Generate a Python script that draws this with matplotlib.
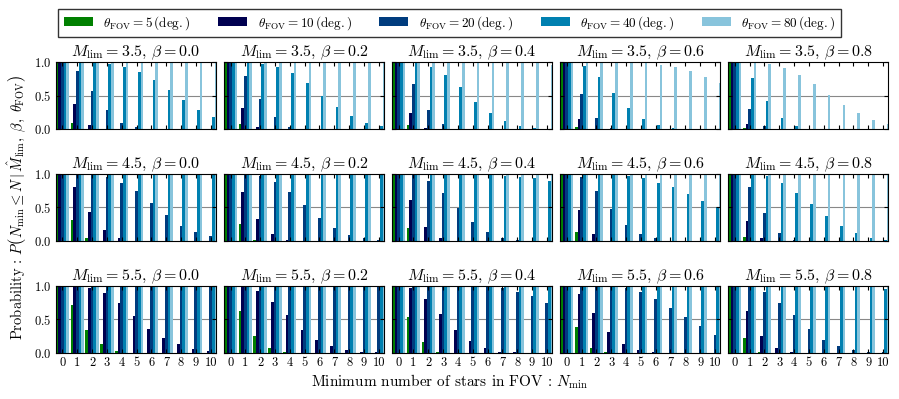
import numpy as np
import matplotlib
matplotlib.use('Agg')
import matplotlib.pyplot as plt

plt.rcParams['font.family'] = 'serif'
plt.rcParams['font.serif'] = ['cmr10', 'DejaVu Serif']
plt.rcParams['mathtext.fontset'] = 'cm'
plt.rcParams['axes.formatter.use_mathtext'] = True

# --- data ---
N_MIN = list(range(11))
THETA_FOV = [5, 10, 20, 40, 80]
M_LIM = [3.5, 4.5, 5.5]
BETA = [0.0, 0.2, 0.4, 0.6, 0.8]
COLORS = ['#008000', '#000050', '#003c7e', '#0080b0', '#88c4dc']

# each panel: rows = theta_FOV 5, 10, 20, 40, 80 ; columns = N_min 0..10
P_M35_B00 = [
    [1, 0.10, 0, 0, 0, 0, 0, 0, 0, 0, 0],
    [1, 0.37, 0.06, 0.01, 0, 0, 0, 0, 0, 0, 0],
    [1, 0.86, 0.57, 0.28, 0.10, 0.03, 0.01, 0, 0, 0, 0],
    [1, 1.0, 0.99, 0.97, 0.93, 0.85, 0.73, 0.58, 0.43, 0.28, 0.18],
    [1, 1, 1, 1, 1, 1, 1, 1, 1, 1, 1],
]
P_M35_B02 = [
    [1, 0.08, 0, 0, 0, 0, 0, 0, 0, 0, 0],
    [1, 0.32, 0.04, 0, 0, 0, 0, 0, 0, 0, 0],
    [1, 0.79, 0.45, 0.18, 0.04, 0.01, 0, 0, 0, 0, 0],
    [1, 1.0, 0.975, 0.93, 0.83, 0.68, 0.50, 0.33, 0.20, 0.10, 0.05],
    [1, 1, 1, 1, 1, 1, 1, 1, 1, 1, 1],
]
P_M35_B04 = [
    [1, 0.06, 0, 0, 0, 0, 0, 0, 0, 0, 0],
    [1, 0.24, 0.02, 0, 0, 0, 0, 0, 0, 0, 0],
    [1, 0.67, 0.29, 0.08, 0.01, 0, 0, 0, 0, 0, 0],
    [1, 1.0, 0.93, 0.80, 0.62, 0.41, 0.24, 0.12, 0.05, 0.02, 0.01],
    [1, 1, 1, 1, 1, 1, 1, 1, 0.99, 0.98, 0.96],
]
P_M35_B06 = [
    [1, 0.04, 0, 0, 0, 0, 0, 0, 0, 0, 0],
    [1, 0.15, 0.01, 0, 0, 0, 0, 0, 0, 0, 0],
    [1, 0.53, 0.17, 0.02, 0, 0, 0, 0, 0, 0, 0],
    [1, 0.94, 0.77, 0.54, 0.32, 0.15, 0.06, 0.02, 0.01, 0, 0],
    [1, 1, 1, 1, 1, 0.99, 0.96, 0.92, 0.86, 0.77, 0.68],
]
P_M35_B08 = [
    [1, 0.02, 0, 0, 0, 0, 0, 0, 0, 0, 0],
    [1, 0.08, 0.01, 0, 0, 0, 0, 0, 0, 0, 0],
    [1, 0.30, 0.05, 0.01, 0, 0, 0, 0, 0, 0, 0],
    [1, 0.76, 0.42, 0.17, 0.05, 0.01, 0, 0, 0, 0, 0],
    [1, 1, 0.97, 0.91, 0.81, 0.67, 0.51, 0.36, 0.24, 0.14, 0.08],
]

P_M45_B00 = [
    [1, 0.32, 0.04, 0, 0, 0, 0, 0, 0, 0, 0],
    [1, 0.81, 0.44, 0.17, 0.04, 0.01, 0, 0, 0, 0, 0],
    [1, 1, 0.99, 0.95, 0.87, 0.74, 0.57, 0.39, 0.23, 0.13, 0.07],
    [1, 1, 1, 1, 1, 1, 1, 1, 1, 1, 1],
    [1, 1, 1, 1, 1, 1, 1, 1, 1, 1, 1],
]
P_M45_B02 = [
    [1, 0.25, 0.02, 0, 0, 0, 0, 0, 0, 0, 0],
    [1, 0.73, 0.33, 0.10, 0.02, 0, 0, 0, 0, 0, 0],
    [1, 1.0, 0.97, 0.88, 0.73, 0.54, 0.34, 0.19, 0.09, 0.04, 0.02],
    [1, 1, 1, 1, 1, 1, 1, 1, 0.99, 0.99, 0.98],
    [1, 1, 1, 1, 1, 1, 1, 1, 1, 1, 1],
]
P_M45_B04 = [
    [1, 0.20, 0.01, 0, 0, 0, 0, 0, 0, 0, 0],
    [1, 0.61, 0.21, 0.04, 0.01, 0, 0, 0, 0, 0, 0],
    [1, 0.98, 0.89, 0.72, 0.49, 0.28, 0.14, 0.05, 0.02, 0.01, 0],
    [1, 1, 1, 1, 1, 0.99, 0.98, 0.97, 0.95, 0.93, 0.90],
    [1, 1, 1, 1, 1, 1, 1, 1, 1, 1, 1],
]
P_M45_B06 = [
    [1, 0.13, 0.01, 0, 0, 0, 0, 0, 0, 0, 0],
    [1, 0.47, 0.10, 0.01, 0, 0, 0, 0, 0, 0, 0],
    [1, 0.95, 0.75, 0.48, 0.24, 0.10, 0.04, 0.01, 0, 0, 0],
    [1, 1, 1, 0.99, 0.97, 0.93, 0.87, 0.80, 0.70, 0.60, 0.50],
    [1, 1, 1, 1, 1, 1, 1, 1, 1, 1, 1],
]
P_M45_B08 = [
    [1, 0.06, 0, 0, 0, 0, 0, 0, 0, 0, 0],
    [1, 0.30, 0.05, 0, 0, 0, 0, 0, 0, 0, 0],
    [1, 0.80, 0.42, 0.12, 0.02, 0, 0, 0, 0, 0, 0],
    [1, 1, 0.97, 0.87, 0.72, 0.55, 0.37, 0.22, 0.12, 0.05, 0.02],
    [1, 1, 1, 1, 1, 1, 1, 1, 1, 1, 0.99],
]

P_M55_B00 = [
    [1, 0.72, 0.35, 0.13, 0.03, 0, 0, 0, 0, 0, 0],
    [1, 0.99, 0.97, 0.89, 0.74, 0.55, 0.36, 0.22, 0.13, 0.06, 0.03],
    [1, 1, 1, 1, 1, 1, 1, 1, 1, 1, 1],
    [1, 1, 1, 1, 1, 1, 1, 1, 1, 1, 1],
    [1, 1, 1, 1, 1, 1, 1, 1, 1, 1, 1],
]
P_M55_B02 = [
    [1, 0.63, 0.26, 0.07, 0.01, 0, 0, 0, 0, 0, 0],
    [1, 0.99, 0.92, 0.76, 0.56, 0.35, 0.20, 0.10, 0.04, 0.02, 0.01],
    [1, 1, 1, 1, 1, 1, 1, 1, 0.99, 0.99, 0.98],
    [1, 1, 1, 1, 1, 1, 1, 1, 1, 1, 1],
    [1, 1, 1, 1, 1, 1, 1, 1, 1, 1, 1],
]
P_M55_B04 = [
    [1, 0.54, 0.17, 0.02, 0, 0, 0, 0, 0, 0, 0],
    [1, 0.96, 0.80, 0.58, 0.35, 0.18, 0.07, 0.02, 0.01, 0, 0],
    [1, 1, 1, 1, 1, 1, 0.99, 0.96, 0.91, 0.85, 0.75],
    [1, 1, 1, 1, 1, 1, 1, 1, 1, 1, 1],
    [1, 1, 1, 1, 1, 1, 1, 1, 1, 1, 1],
]
P_M55_B06 = [
    [1, 0.39, 0.08, 0.01, 0, 0, 0, 0, 0, 0, 0],
    [1, 0.87, 0.60, 0.31, 0.13, 0.04, 0.01, 0, 0, 0, 0],
    [1, 1, 1, 0.99, 0.96, 0.90, 0.80, 0.67, 0.54, 0.40, 0.27],
    [1, 1, 1, 1, 1, 1, 1, 1, 1, 1, 1],
    [1, 1, 1, 1, 1, 1, 1, 1, 1, 1, 1],
]
P_M55_B08 = [
    [1, 0.22, 0.02, 0, 0, 0, 0, 0, 0, 0, 0],
    [1, 0.63, 0.26, 0.07, 0.01, 0, 0, 0, 0, 0, 0],
    [1, 1.0, 0.91, 0.75, 0.56, 0.36, 0.20, 0.10, 0.04, 0.02, 0.01],
    [1, 1, 1, 1, 1, 1, 1, 1, 0.99, 0.98, 0.95],
    [1, 1, 1, 1, 1, 1, 1, 1, 1, 1, 1],
]

PANELS = [
    [P_M35_B00, P_M35_B02, P_M35_B04, P_M35_B06, P_M35_B08],
    [P_M45_B00, P_M45_B02, P_M45_B04, P_M45_B06, P_M45_B08],
    [P_M55_B00, P_M55_B02, P_M55_B04, P_M55_B06, P_M55_B08],
]

# --- plot ---
fig, axes = plt.subplots(3, 5, figsize=(8.99, 3.99), dpi=100, sharey=True)
fig.subplots_adjust(left=0.062, right=0.988, top=0.845, bottom=0.115,
                    wspace=0.05, hspace=0.66)

width = 0.18
x = np.arange(len(N_MIN))
handles = []
for r, m in enumerate(M_LIM):
    for c, b in enumerate(BETA):
        ax = axes[r, c]
        data = PANELS[r][c]
        for k, theta in enumerate(THETA_FOV):
            bars = ax.bar(x + k * width, data[k], width, align='edge',
                          color=COLORS[k], linewidth=0,
                          label=r'$\theta_{\rm FOV}=%d\,(\rm deg.)$' % theta)
            if r == 0 and c == 0:
                handles.append(bars)
        ax.axhline(0.5, color='#888888', lw=0.8, zorder=0.5)
        ax.set_xlim(0, 10.8)
        ax.set_ylim(0, 1.0)
        ax.set_xticks(x + 2.5 * width)
        ax.set_yticks([0.0, 0.5, 1.0])
        ax.tick_params(direction='in', top=True, right=True, length=3,
                       labelsize=9, pad=3)
        if r == 2:
            ax.set_xticklabels([str(n) for n in N_MIN])
        else:
            ax.set_xticklabels([])
        if c != 0:
            ax.tick_params(labelleft=False)
        ax.set_title(r'$M_{\rm lim}=%.1f$, $\beta=%.1f$' % (m, b),
                     fontsize=11.5, pad=4)

fig.legend(handles=handles, loc='upper center', ncol=5,
           bbox_to_anchor=(0.5, 0.995), fontsize=9.5, frameon=True,
           fancybox=False, edgecolor='black', handlelength=2.2,
           columnspacing=2.1, borderpad=0.4)
fig.text(0.5, 0.02, r'Minimum number of stars in FOV : $N_{\rm min}$',
         ha='center', va='bottom', fontsize=11)
fig.text(0.006, 0.48,
         r'Probability : $P\left(N_{\rm min}\leq N\,|\,\hat{M}_{\rm lim},\ \beta,\ \theta_{\rm FOV}\right)$',
         ha='left', va='center', rotation=90, fontsize=10.5)

fig.savefig('out.png', dpi=100)
